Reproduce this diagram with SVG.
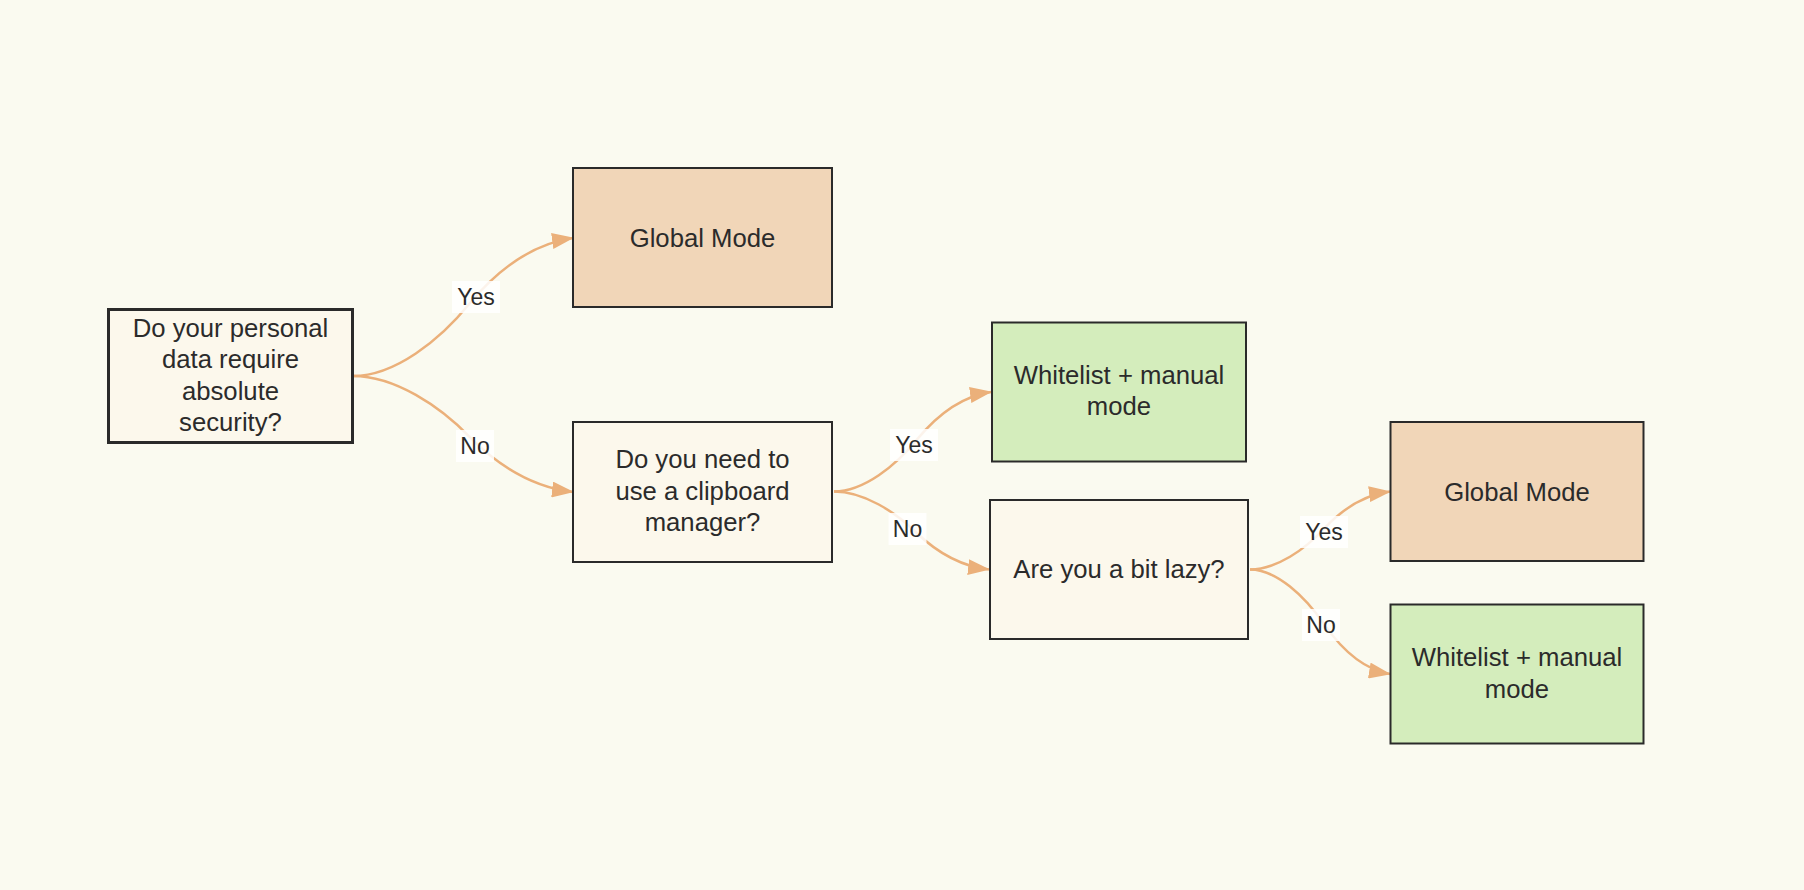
<svg xmlns="http://www.w3.org/2000/svg" width="1804" height="890" viewBox="0 0 1804 890">
<style>
.node rect{stroke:#2a2a2a;stroke-width:2}
.q rect{fill:#fcf8ec}
.g rect{fill:#f1d6b8}
.w rect{fill:#d4edbc}
.node text{font-family:"Liberation Sans",Arial,sans-serif;font-size:25.7px;fill:#2b2b2b;text-anchor:middle}
.edge{fill:none;stroke:#ebb07a;stroke-width:2.5;marker-end:url(#arrow)}
.lbl rect{fill:#ffffff;fill-opacity:0.85}
.lbl text{font-family:"Liberation Sans",Arial,sans-serif;font-size:23px;fill:#2b2b2b;text-anchor:middle}
</style>
<defs>
<marker id="arrow" markerUnits="userSpaceOnUse" viewBox="0 0 22 16" markerWidth="22" markerHeight="16" refX="21" refY="8" orient="auto">
<path d="M0,0 L22,8 L0,16 z" fill="#ebb07a"/>
</marker>
</defs>
<rect x="0" y="0" width="1804" height="890" fill="#fafaf0"/>
<g id="connectors">
<path class="edge" d="M353,376 C394.8,376 439.9,340.1 469.6,303.5 C494.9,273.2 530.1,244.1 573,238"/>
<path class="edge" d="M353,376 C394.8,376 439.9,406.2 469.6,436.9 C494.9,462.4 530.1,486.9 573,492"/>
<path class="edge" d="M834,491.5 C863.8,491.5 896,465.6 917.2,439.3 C935.3,417.4 960.4,396.4 991,392"/>
<path class="edge" d="M834,491.5 C863.5,491.5 895.2,511.8 916.2,532.5 C934,549.6 958.8,566.1 989,569.5"/>
<path class="edge" d="M1250,569.5 C1276.6,569.5 1305.3,549.2 1324.2,528.5 C1340.3,511.4 1362.7,494.9 1390,491.5"/>
<path class="edge" d="M1250,569.5 C1276.6,569.5 1305.3,596.7 1324.2,624.4 C1340.3,647.4 1362.7,669.4 1390,674"/>
<g class="lbl"><rect x="452" y="281" width="48" height="32"/><text x="476" y="305">Yes</text></g>
<g class="lbl"><rect x="456" y="430" width="38" height="32"/><text x="475" y="454">No</text></g>
<g class="lbl"><rect x="890" y="429" width="48" height="32"/><text x="914" y="453">Yes</text></g>
<g class="lbl"><rect x="888.5" y="513" width="38" height="32"/><text x="907.5" y="537">No</text></g>
<g class="lbl"><rect x="1300" y="516" width="48" height="32"/><text x="1324" y="540">Yes</text></g>
<g class="lbl"><rect x="1302" y="609" width="38" height="32"/><text x="1321" y="633">No</text></g>
</g>
<g id="nodeA" class="node q"><rect x="108.5" y="309.5" width="244" height="133" style="stroke-width:3"/>
<text x="230.5" y="336.75">Do your personal</text><text x="230.5" y="368.25">data require</text><text x="230.5" y="399.75">absolute</text><text x="230.5" y="431.25">security?</text></g>
<g id="nodeG1" class="node g"><rect x="573" y="168" width="259" height="139"/><text x="702.5" y="247">Global Mode</text></g>
<g id="nodeB" class="node q"><rect x="573" y="422" width="259" height="140"/>
<text x="702.5" y="468">Do you need to</text><text x="702.5" y="499.5">use a clipboard</text><text x="702.5" y="531">manager?</text></g>
<g id="nodeW1" class="node w"><rect x="992" y="322.5" width="254" height="139"/>
<text x="1119" y="383.5">Whitelist + manual</text><text x="1119" y="415">mode</text></g>
<g id="nodeLazy" class="node q"><rect x="990" y="500" width="258" height="139"/><text x="1119" y="578">Are you a bit lazy?</text></g>
<g id="nodeG2" class="node g"><rect x="1390.5" y="422" width="253" height="139"/><text x="1517" y="500.5">Global Mode</text></g>
<g id="nodeW2" class="node w"><rect x="1390.5" y="604.5" width="253" height="139"/>
<text x="1517" y="666">Whitelist + manual</text><text x="1517" y="697.5">mode</text></g>
</svg>
